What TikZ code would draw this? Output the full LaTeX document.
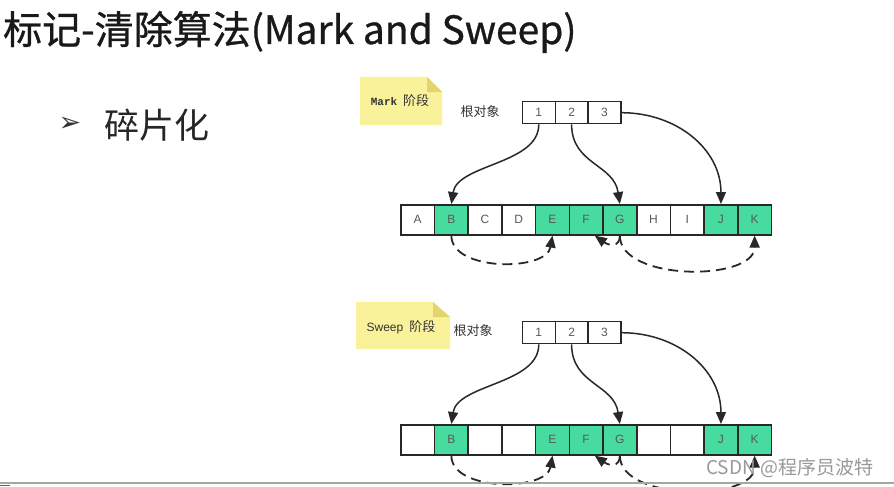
\documentclass[tikz,border=0pt]{standalone}
\usepackage{fontspec}
\setmainfont{Liberation Sans}
\newfontfamily\cjk{Noto Sans CJK SC}
\newfontfamily\cjkt[FakeBold=0.8]{Noto Sans CJK SC}
\newfontfamily\djv{DejaVu Sans}
\newfontfamily\mono{Liberation Mono}
\usetikzlibrary{arrows.meta}
\definecolor{cellgreen}{RGB}{72,219,160}
\definecolor{notey}{RGB}{250,242,155}
\definecolor{notefold}{RGB}{226,212,110}
\definecolor{edgec}{RGB}{40,40,40}
\begin{document}
\begin{tikzpicture}[x=1pt,y=-1pt,
  cell/.style={draw=edgec, line width=1.6pt, minimum width=33.7pt, minimum height=30pt,
    inner sep=0pt, anchor=north west, font=\fontsize{12}{12}\selectfont, text=black!65},
  live/.style={cell, fill=cellgreen},
  rootcell/.style={draw=edgec, line width=1.4pt, minimum width=32.8pt, minimum height=22pt,
    inner sep=0pt, anchor=north west, font=\fontsize{12}{12}\selectfont, text=black!65},
  ref/.style={-{Triangle[length=12pt,width=10pt]}, line width=1.5pt, draw=edgec},
  dref/.style={ref, line width=1.8pt, dash pattern=on 10pt off 6pt},
  note/.style={fill=notey},
  fold/.style={fill=notefold},
  lbl/.style={font=\cjk\fontsize{13}{13}\selectfont, text=black!80, inner sep=0pt},
]
\fill[white] (0,0) rectangle (894,487);
\useasboundingbox (0,0) rectangle (894,487);

% title and bullet
\node[anchor=base west, inner sep=0pt, text=black!90, font=\cjkt\fontsize{39}{39}\selectfont] (title) at (3,44) {标记-清除算法(Mark and Sweep)};
\node[inner sep=0pt, text=black!80, font=\djv\fontsize{27}{27}\selectfont] (bul) at (70,124) {➢};
\node[anchor=west, inner sep=0pt, text=black!85, font=\cjk\fontsize{35}{35}\selectfont] (frag) at (104,125) {碎片化};

% ---------- Mark phase ----------
\fill[note] (360,77) -- (427,77) -- (442,92) -- (442,125) -- (360,125) -- cycle;
\fill[fold] (427,77) -- (442,92) -- (427,92) -- cycle;
\node[inner sep=0pt, text=black!80] (markn) at (400,101) {{\mono\bfseries\fontsize{11}{11}\selectfont Mark}\hspace{6pt}{\cjk\fontsize{13}{13}\selectfont 阶段}};
\node[lbl] (rootA) at (480,112) {根对象};

\foreach \i in {1,2,3}
  \node[rootcell] (r\i) at ({521.7+(\i-1)*32.8},101) {\i};

\foreach \i/\l/\s in {1/A/cell,2/B/live,3/C/cell,4/D/cell,5/E/live,6/F/live,7/G/live,8/H/cell,9/I/cell,10/J/live,11/K/live}
  \node[\s] (a\i) at ({400+(\i-1)*33.7},204) {\l};

\draw[ref] (r1.south) .. controls +(0,40) and +(6,-40) .. (a2.north);
\draw[ref] (r2.south) .. controls +(0,40) and +(-6,-40) .. (a7.north);
\draw[ref] (r3.east) .. controls +(55,0) and +(0,-55) .. (a10.north);

\draw[dref] (a2.south) .. controls +(0,36) and +(-6,36) .. (a5.south);
\draw[dref] (a7.south) .. controls +(0,12) and +(14,10) .. ([xshift=-9pt]a6.south east);
\draw[dref] (a7.south) .. controls +(0,46) and +(0,46) .. (a11.south);

% ---------- Sweep phase ----------
\fill[note] (356,302) -- (433,302) -- (450,317) -- (450,349) -- (356,349) -- cycle;
\fill[fold] (433,302) -- (450,317) -- (433,317) -- cycle;
\node[inner sep=0pt, text=black!80] (sweepn) at (401,327) {{\fontsize{12}{12}\selectfont Sweep}\hspace{6pt}{\cjk\fontsize{13}{13}\selectfont 阶段}};
\node[lbl] (rootB) at (473,331) {根对象};

\foreach \i in {1,2,3}
  \node[rootcell] (s\i) at ({521.7+(\i-1)*32.8},321) {\i};

\foreach \i/\l/\s in {1//cell,2/B/live,3//cell,4//cell,5/E/live,6/F/live,7/G/live,8//cell,9//cell,10/J/live,11/K/live}
  \node[\s] (b\i) at ({400+(\i-1)*33.7},424) {\l};

\draw[ref] (s1.south) .. controls +(0,40) and +(6,-40) .. (b2.north);
\draw[ref] (s2.south) .. controls +(0,40) and +(-6,-40) .. (b7.north);
\draw[ref] (s3.east) .. controls +(55,0) and +(0,-55) .. (b10.north);

\draw[dref] (b2.south) .. controls +(0,36) and +(-6,36) .. (b5.south);
\draw[dref] (b7.south) .. controls +(0,12) and +(14,10) .. ([xshift=-9pt]b6.south east);
\draw[dref] (b7.south) .. controls +(0,46) and +(0,46) .. (b11.south);

% watermark and bottom edge
\node[anchor=west, inner sep=0pt, text=black!40, font=\cjk\fontsize{19}{19}\selectfont] (wm) at (706,468) {CSDN @程序员波特};
\draw[black!35, line width=1.5pt] (0,483) -- (894,483);
\draw[blue!70, line width=1.5pt] (0,485.5) -- (10,485.5);
\end{tikzpicture}
\end{document}
